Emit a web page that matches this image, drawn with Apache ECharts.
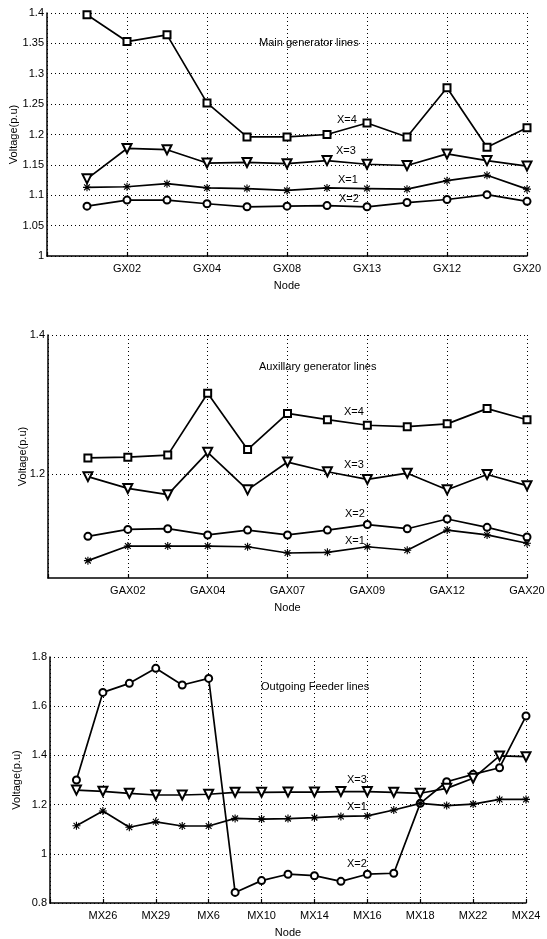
<!DOCTYPE html>
<html>
<head>
<meta charset="utf-8">
<script src="https://cdn.jsdelivr.net/npm/echarts@6/dist/echarts.min.js"></script>
<style>
html,body{margin:0;padding:0;background:#fff;}
#c{width:547px;height:939px;}
</style>
</head>
<body>
<div id="c"></div>
<script>
// ---------- data ----------
const gxLabels  = ['GX02','GX04','GX08','GX13','GX12','GX20'];
const gaxLabels = ['GAX02','GAX04','GAX07','GAX09','GAX12','GAX20'];
const mxLabels  = ['MX26','MX29','MX6','MX10','MX14','MX16','MX18','MX22','MX24'];

const main_x4 = [1.397,1.353,1.364,1.252,1.196,1.196,1.200,1.219,1.196,1.277,1.179,1.211];
const main_x3 = [1.127,1.177,1.175,1.153,1.154,1.152,1.157,1.151,1.149,1.168,1.157,1.148];
const main_x1 = [1.113,1.114,1.119,1.112,1.111,1.108,1.112,1.111,1.110,1.124,1.133,1.110];
const main_x2 = [1.082,1.092,1.092,1.086,1.081,1.082,1.083,1.081,1.088,1.093,1.101,1.090];

const aux_x4 = [1.223,1.224,1.227,1.316,1.235,1.287,1.278,1.270,1.268,1.272,1.294,1.278];
const aux_x3 = [1.196,1.179,1.170,1.231,1.177,1.217,1.203,1.192,1.201,1.177,1.199,1.183];
const aux_x2 = [1.110,1.120,1.121,1.112,1.119,1.112,1.119,1.127,1.121,1.135,1.123,1.109];
const aux_x1 = [1.075,1.096,1.096,1.096,1.095,1.086,1.087,1.095,1.090,1.119,1.112,1.100];

const feed_x2 = [1.300,1.656,1.693,1.754,1.686,1.713,0.843,0.891,0.917,0.911,0.888,0.917,0.921,1.205,1.293,1.323,1.350,1.560];
const feed_x3 = [1.259,1.254,1.246,1.239,1.239,1.242,1.250,1.250,1.251,1.251,1.253,1.253,1.250,1.246,1.266,1.307,1.398,1.395];
const feed_x1 = [1.114,1.174,1.108,1.130,1.113,1.113,1.144,1.141,1.143,1.147,1.152,1.154,1.178,1.205,1.196,1.202,1.221,1.221];

// ---------- helpers ----------
const FONT = '"Liberation Sans", Arial, sans-serif';
const STAR = 'path://M4.3,0h1.4v10h-1.4z M0,4.3h10v1.4h-10z M0.9,1.9l1,-1l7.2,7.2l-1,1z M8.1,0.9l1,1l-7.2,7.2l-1,-1z';
const DOT = {color:'#000', width:1, type:[1,3]};

function pairs(arr){ return arr.map((v,i)=>[i+1,v]); }

function mkSeries(arr, gi, kind){
  const base = {
    type:'line', xAxisIndex:gi, yAxisIndex:gi, data:pairs(arr),
    lineStyle:{color:'#000', width:1.7}, silent:true, animation:false, z:3
  };
  if(kind==='sq'){ base.symbol='emptyRect'; base.symbolSize=7; base.itemStyle={color:'#000',borderColor:'#000',borderWidth:1.6}; }
  if(kind==='tri'){ base.symbol='emptyTriangle'; base.symbolRotate=180; base.symbolSize=9; base.itemStyle={color:'#000',borderColor:'#000',borderWidth:2}; }
  if(kind==='circ'){ base.symbol='emptyCircle'; base.symbolSize=7; base.itemStyle={color:'#000',borderColor:'#000',borderWidth:1.5}; }
  if(kind==='star'){ base.symbol=STAR; base.symbolSize=8; base.itemStyle={color:'#000'}; }
  return base;
}

const TXT = {color:'#000', fontFamily:FONT, fontSize:11};

function xAx(gi, max, labels){
  return {
    type:'value', gridIndex:gi, min:0, max:max, interval:2,
    axisLine:{show:true, lineStyle:{color:'#000', width:1.5}},
    axisTick:{show:true, inside:true, length:4, lineStyle:{color:'#000', width:1.2}},
    splitLine:{show:true, lineStyle:DOT},
    axisLabel:Object.assign({margin:7,
      formatter:v=>(v>0 && v%2===0) ? (labels[v/2-1]||'') : ''}, TXT),
    name:'Node', nameLocation:'middle', nameGap:24, nameMoveOverlap:false,
    nameTextStyle:TXT
  };
}

function yAx(gi, min, max, interval, fmt, split, gap){
  return {
    type:'value', gridIndex:gi, min:min, max:max, interval:interval,
    axisLine:{show:true, lineStyle:{color:'#000', width:1.5}},
    axisTick:{show:false},
    splitLine:{show:split, lineStyle:DOT},
    axisLabel:Object.assign({margin:3, formatter:fmt}, TXT),
    name:'Voltage(p.u)', nameLocation:'middle', nameGap:gap, nameRotate:90, nameMoveOverlap:false,
    nameTextStyle:TXT
  };
}

function txt(s, x, y){
  return {type:'text', x:x, y:y, silent:true, z:10,
    style:{text:s, fill:'#000', font:'11px '+FONT, verticalAlign:'middle'}};
}

const fmt1 = v => String(Math.round(v*100)/100);
const fmt2 = v => {
  if (Math.abs(v-1.2)<1e-6) return '1.2';
  if (Math.abs(v-1.4)<1e-6) return '1.4';
  return '';
};
const fmt3 = v => String(Math.round(v*10)/10);

const chart = echarts.init(document.getElementById('c'), null, {renderer:'canvas'});

const option = {
  animation:false,
  backgroundColor:'#fff',
  grid:[
    {left:47, top:13, width:480, height:243, outerBoundsMode:'none'},
    {left:48, top:335, width:479, height:243, outerBoundsMode:'none'},
    {left:50, top:657, width:476, height:246, outerBoundsMode:'none'}
  ],
  xAxis:[ xAx(0,12,gxLabels), xAx(1,12,gaxLabels), xAx(2,18,mxLabels) ],
  yAxis:[
    yAx(0, 1.0, 1.4, 0.05, fmt1, true, 28),
    yAx(1, 1.05, 1.4, 0.05, fmt2, false, 20),
    yAx(2, 0.8, 1.8, 0.2, fmt3, true, 28)
  ],
  series:[
    mkSeries(main_x4,0,'sq'), mkSeries(main_x3,0,'tri'), mkSeries(main_x1,0,'star'), mkSeries(main_x2,0,'circ'),
    Object.assign(mkSeries(aux_x4,1,'sq'), {markLine:{silent:true, symbol:'none', label:{show:false}, lineStyle:DOT, animation:false, data:[{yAxis:1.2},{yAxis:1.4}]}}),
    mkSeries(aux_x3,1,'tri'), mkSeries(aux_x2,1,'circ'), mkSeries(aux_x1,1,'star'),
    mkSeries(feed_x2,2,'circ'), mkSeries(feed_x3,2,'tri'), mkSeries(feed_x1,2,'star')
  ],
  graphic:[
    txt('Main generator lines', 259, 43),
    txt('X=4', 337, 120), txt('X=3', 336, 151), txt('X=1', 338, 180), txt('X=2', 339, 199),
    txt('Auxillary generator lines', 259, 367),
    txt('X=4', 344, 412), txt('X=3', 344, 465), txt('X=2', 345, 514), txt('X=1', 345, 541),
    txt('Outgoing Feeder lines', 261, 687),
    txt('X=3', 347, 780), txt('X=1', 347, 807), txt('X=2', 347, 864)
  ]
};
chart.setOption(option);
</script>
</body>
</html>
